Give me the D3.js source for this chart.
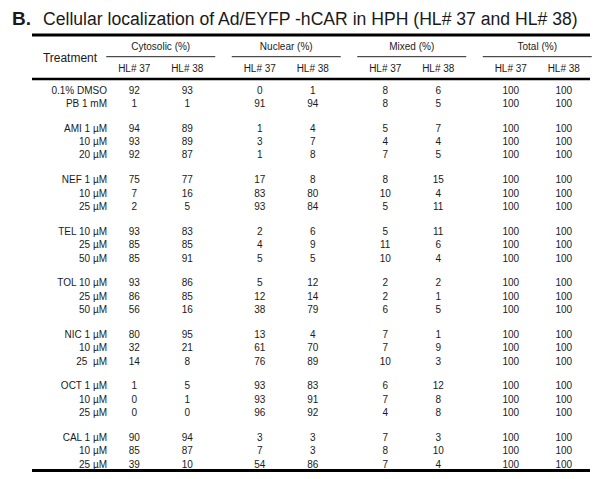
<!DOCTYPE html>
<html>
<head>
<meta charset="utf-8">
<script src="https://cdn.jsdelivr.net/npm/d3@7"></script>
<style>
  body { margin: 0; background: #fff; }
  svg text { font-family: "Liberation Sans", Arial, sans-serif; fill: #1a1a1a; }
</style>
</head>
<body>
<div id="chart"></div>
<script>
// table contents
var treatments = ["0.1% DMSO", "PB 1 mM",
    "AMI 1 \u00b5M", "10 \u00b5M", "20 \u00b5M",
    "NEF 1 \u00b5M", "10 \u00b5M", "25 \u00b5M",
    "TEL 10 \u00b5M", "25 \u00b5M", "50 \u00b5M",
    "TOL 10 \u00b5M", "25 \u00b5M", "50 \u00b5M",
    "NIC 1 \u00b5M", "10 \u00b5M", "25  \u00b5M",
    "OCT 1 \u00b5M", "10 \u00b5M", "25 \u00b5M",
    "CAL 1 \u00b5M", "10 \u00b5M", "25 \u00b5M"];
var blocks = [0, 0, 1, 1, 1, 2, 2, 2, 3, 3, 3, 4, 4, 4, 5, 5, 5, 6, 6, 6, 7, 7, 7];

var cytosolic37 = [92, 1, 94, 93, 92, 75, 7, 2, 93, 85, 85, 93, 86, 56, 80, 32, 14, 1, 0, 0, 90, 85, 39];
var cytosolic38 = [93, 1, 89, 89, 87, 77, 16, 5, 83, 85, 91, 86, 85, 16, 95, 21, 8, 5, 1, 0, 94, 87, 10];
var nuclear37 = [0, 91, 1, 3, 1, 17, 83, 93, 2, 4, 5, 5, 12, 38, 13, 61, 76, 93, 93, 96, 3, 7, 54];
var nuclear38 = [1, 94, 4, 7, 8, 8, 80, 84, 6, 9, 5, 12, 14, 79, 4, 70, 89, 83, 91, 92, 3, 3, 86];
var mixed37 = [8, 8, 5, 4, 7, 8, 10, 5, 5, 11, 10, 2, 2, 6, 7, 7, 10, 6, 7, 4, 7, 8, 7];
var mixed38 = [6, 5, 7, 4, 5, 15, 4, 11, 11, 6, 4, 2, 1, 5, 1, 9, 3, 12, 8, 8, 3, 10, 4];
var total37 = [100, 100, 100, 100, 100, 100, 100, 100, 100, 100, 100, 100, 100, 100, 100, 100, 100, 100, 100, 100, 100, 100, 100];
var total38 = [100, 100, 100, 100, 100, 100, 100, 100, 100, 100, 100, 100, 100, 100, 100, 100, 100, 100, 100, 100, 100, 100, 100];

var groups = ["Cytosolic (%)", "Nuclear (%)", "Mixed (%)", "Total (%)"];
var subCols = ["HL# 37", "HL# 38"];
var columns = [[cytosolic37, cytosolic38], [nuclear37, nuclear38], [mixed37, mixed38], [total37, total38]];

var width = 600, height = 479;
var left = 32, right = 590;
var gapUnits = 1.85;

var svg = d3.select("#chart").append("svg")
    .attr("width", width)
    .attr("height", height);

// row positions: one unit per row, a bit more between blocks
var slots = [];
var u = 0;
blocks.forEach(function (b, i) {
    if (i > 0) u += (b !== blocks[i - 1]) ? gapUnits : 1;
    slots.push(u);
});
var y = d3.scaleLinear().domain([0, u]).range([90, 464.3]);

var xGroup = d3.scaleBand().domain(groups).range([98, 600]);
var xSub = d3.scalePoint().domain(subCols).range([-26.5, 26.5]);
function colX(g, s) { return xGroup(g) + xGroup.bandwidth() / 2 + xSub(s); }

// title
svg.append("text")
    .attr("x", 12).attr("y", 25)
    .style("font-size", "19px").style("font-weight", "bold")
    .text("B.");
svg.append("text")
    .attr("x", 43).attr("y", 25)
    .style("font-size", "17.6px")
    .text("Cellular localization of Ad/EYFP -hCAR in HPH (HL# 37 and HL# 38)");

// rules
[[35, 3], [79, 2.5], [470.5, 3]].forEach(function (r) {
    svg.append("line")
        .attr("x1", left).attr("x2", right)
        .attr("y1", r[0]).attr("y2", r[0])
        .attr("stroke", "#000").attr("stroke-width", r[1]);
});

// header
svg.append("text")
    .attr("x", 70).attr("y", 58)
    .attr("text-anchor", "middle").attr("dominant-baseline", "central")
    .style("font-size", "12px")
    .text("Treatment");

var head = svg.selectAll(".grp").data(groups).enter().append("g").attr("class", "grp");
head.append("text")
    .attr("x", function (d) { return xGroup(d) + xGroup.bandwidth() / 2; })
    .attr("y", 46.5)
    .attr("text-anchor", "middle").attr("dominant-baseline", "central")
    .style("font-size", "10px")
    .text(function (d) { return d; });
head.append("line")
    .attr("x1", function (d) { return xGroup(d) + xGroup.bandwidth() / 2 - 54.5; })
    .attr("x2", function (d) { return xGroup(d) + xGroup.bandwidth() / 2 + 54.5; })
    .attr("y1", 56.7).attr("y2", 56.7)
    .attr("stroke", "#222").attr("stroke-width", 1);
head.selectAll(".sub").data(function (g) { return subCols.map(function (s) { return [g, s]; }); })
    .enter().append("text")
    .attr("x", function (d) { return colX(d[0], d[1]); })
    .attr("y", 68.3)
    .attr("text-anchor", "middle").attr("dominant-baseline", "central")
    .style("font-size", "10px")
    .text(function (d) { return d[1]; });

// body
var rows = svg.selectAll(".row").data(treatments).enter().append("g")
    .attr("class", "row")
    .attr("transform", function (d, i) { return "translate(0," + y(slots[i]) + ")"; });

rows.append("text")
    .attr("x", 107)
    .attr("text-anchor", "end").attr("dominant-baseline", "central")
    .style("font-size", "10px")
    .style("white-space", "pre")
    .text(function (d) { return d; });

groups.forEach(function (g, gi) {
    subCols.forEach(function (s, si) {
        rows.append("text")
            .attr("x", colX(g, s))
            .attr("text-anchor", "middle").attr("dominant-baseline", "central")
            .style("font-size", "10px")
            .text(function (d, i) { return columns[gi][si][i]; });
    });
});
</script>
</body>
</html>
